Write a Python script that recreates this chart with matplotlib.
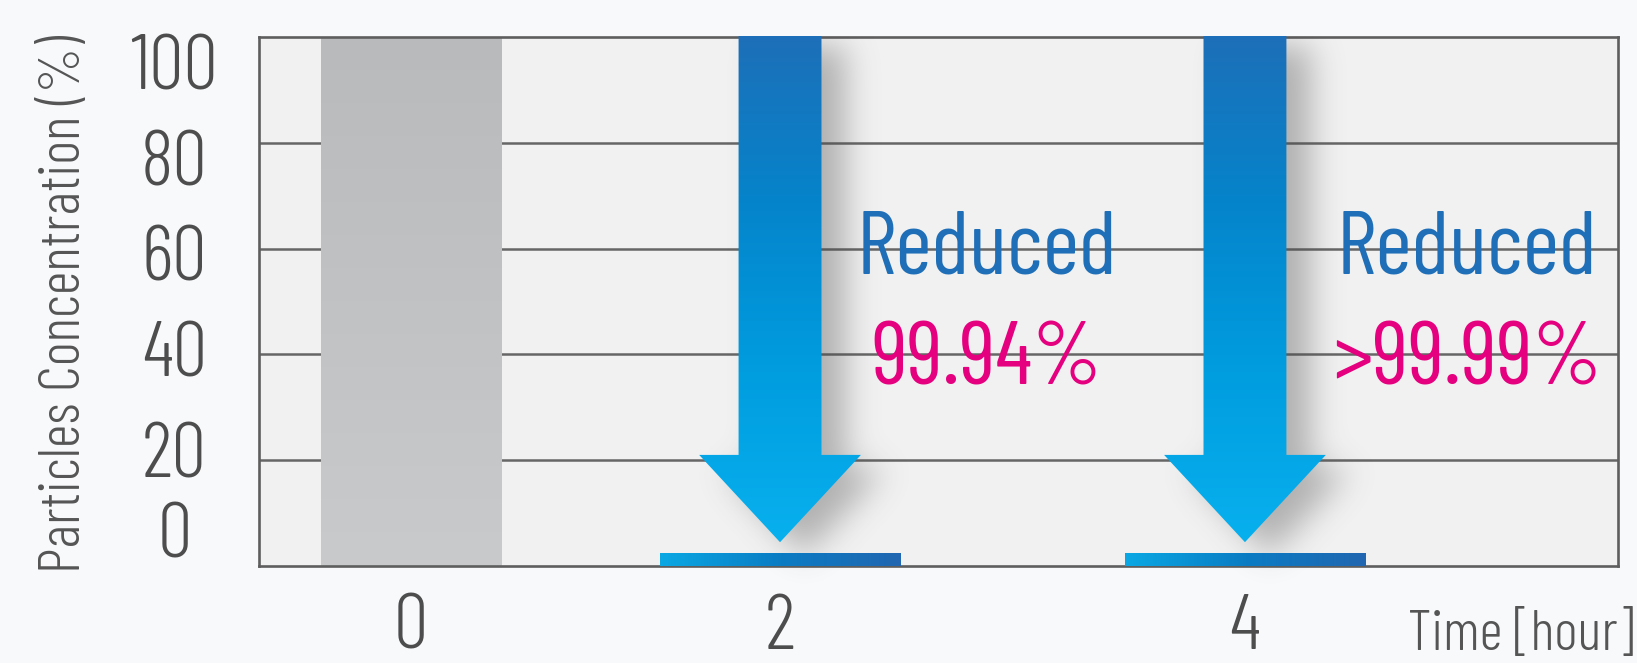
import matplotlib
matplotlib.use('Agg')
import matplotlib.pyplot as plt
import numpy as np
from matplotlib.patches import Polygon
from matplotlib.path import Path
from matplotlib.colors import LinearSegmentedColormap

plt.rcParams['font.family'] = ['Barlow Condensed', 'DejaVu Sans']

# ---------------- data ----------------
hours = ['0', '2', '4']
concentration = [100, 2.5, 2.5]          # % remaining (drawn height)
reduced_text = ['', '99.94%', '>99.99%']
ytick_labels = ['0', '20', '40', '60', '80', '100']
grid_values = [20, 40, 60, 80]

# ---------------- layout ----------------
slot = [0.1118, 0.3834, 0.7255]          # x centres in axes fraction
bar_w = [0.133, 0.177, 0.177]
ytick_pos = [5.2, 20.4, 39.6, 57.7, 75.6, 93.7]   # labels sit off the gridlines in the original
shaft_w, head_w = 0.061, 0.119
head_y, tip_y = 21.0, 4.5

fig = plt.figure(figsize=(16.37, 6.63), dpi=100, facecolor='#f7f9fb')
ax = fig.add_axes([0.1582, 0.1463, 0.8302, 0.7979])
ax.set_facecolor('#f1f1f1')
ax.set_xlim(0, 1)
ax.set_ylim(0, 100)

for s in ax.spines.values():
    s.set_color('#5e5e5e')
    s.set_linewidth(1.9)
for g in grid_values:
    ax.axhline(g, color='#666666', lw=1.8, zorder=1)

# bars with gradients
gray_cm = LinearSegmentedColormap.from_list('g', ['#c9cacc', '#b9babc'])
blue_h = LinearSegmentedColormap.from_list('bh', ['#0aa8e4', '#0a7cc4', '#2166b0'])
bars = ax.bar(slot, concentration, width=bar_w, color='#bbbcbe', zorder=2)
for i, b in enumerate(bars):
    x0, y0 = b.get_x(), b.get_y()
    x1, y1 = x0 + b.get_width(), y0 + b.get_height()
    if i == 0:
        grad = np.linspace(0, 1, 256).reshape(-1, 1)
        cm, z = gray_cm, 2
    else:
        grad = np.linspace(0, 1, 256).reshape(1, -1)
        cm, z = blue_h, 3.2
    b.set_zorder(z)
    im = ax.imshow(grad, extent=[x0, x1, y0, y1], origin='lower', cmap=cm,
                   aspect='auto', zorder=z, interpolation='bicubic')
    im.set_clip_path(b)


def arrow_pts(cx):
    return [(cx - shaft_w / 2, 100.6), (cx + shaft_w / 2, 100.6),
            (cx + shaft_w / 2, head_y), (cx + head_w / 2, head_y),
            (cx, tip_y), (cx - head_w / 2, head_y), (cx - shaft_w / 2, head_y)]


# soft drop shadow behind arrows
W, ybot = 1359, -22
H = int((100 - ybot) * 5.29)
xs = (np.arange(W) + 0.5)
ys = (np.arange(H) + 0.5)
XX, YY = np.meshgrid(xs, ys)
pts = np.column_stack([XX.ravel(), YY.ravel()])
mask = np.zeros(H * W)
dx, dy = 24, -14
for cx in slot[1:]:
    poly_px = [(x * W + dx, (y - ybot) * 5.29 + dy) for x, y in arrow_pts(cx)]
    mask += Path(poly_px).contains_points(pts)
mask = mask.reshape(H, W)
sig = 16
k = np.exp(-0.5 * (np.arange(-3 * sig, 3 * sig + 1) / sig) ** 2)
k /= k.sum()
mask = np.apply_along_axis(lambda r: np.convolve(r, k, mode='same'), 1, mask)
mask = np.apply_along_axis(lambda c: np.convolve(c, k, mode='same'), 0, mask)
shadow = np.zeros((H, W, 4))
shadow[..., :3] = 0.28
shadow[..., 3] = np.clip(mask, 0, 1) * 0.38
ax.imshow(shadow, extent=[0, 1, ybot, 100], origin='lower', aspect='auto',
          zorder=2.6, clip_on=False)

# arrows with vertical gradient
arrow_cm = LinearSegmentedColormap.from_list('a', ['#08b0ee', '#009ddf', '#0584cb', '#1d6fb8'])
for cx in slot[1:]:
    p = Polygon(arrow_pts(cx), closed=True, facecolor='none', edgecolor='none',
                transform=ax.transData)
    p.set_clip_on(False)
    ax.add_patch(p)
    grad = np.linspace(0, 1, 256).reshape(-1, 1)
    im = ax.imshow(grad, extent=[cx - head_w / 2, cx + head_w / 2, tip_y, 100.6],
                   origin='lower', cmap=arrow_cm, aspect='auto', zorder=4,
                   interpolation='bicubic')
    im.set_clip_path(p)
    im.set_clip_box(None)

# annotations
text_x = [None, 0.5357, 0.889]
for i in (1, 2):
    ax.text(text_x[i], 55.2, 'Reduced', color='#1f6fb8', fontsize=64,
            ha='center', va='baseline', zorder=5)
    ax.text(text_x[i], 34.4, reduced_text[i], color='#e4007f', fontsize=64,
            ha='center', va='baseline', zorder=5)

ax.set_ylim(0, 100)
ax.set_xlim(0, 1)
ax.set_xticks(slot, hours)
ax.set_yticks(ytick_pos, ytick_labels)
ax.tick_params(axis='both', length=0, labelcolor='#4d4d4d')
ax.tick_params(axis='x', labelsize=56, pad=20)
ax.tick_params(axis='y', labelsize=56, pad=61)
for t in ax.get_yticklabels() + ax.get_xticklabels():
    t.set_fontweight(300)
for t in ax.get_yticklabels():
    t.set_ha('center')
    t.set_va('center')

ax.set_ylabel('Particles Concentration (%)', fontsize=42, color='#555555',
              fontweight=300)
ax.yaxis.set_label_coords(-0.1225, 0.495)

fig.text(0.998, 0.0196, 'Time [hour]', fontsize=41, color='#555555',
         ha='right', va='baseline', fontweight=300)

fig.savefig('out.png', dpi=100, facecolor=fig.get_facecolor())
